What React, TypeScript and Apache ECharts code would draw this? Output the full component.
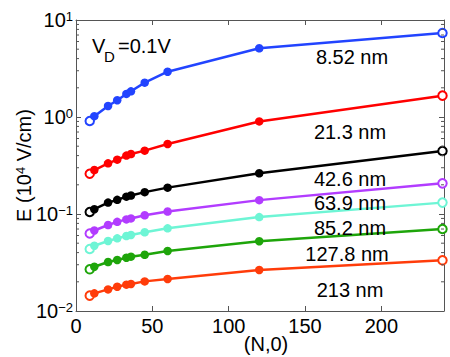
import React, { useEffect, useRef } from 'react';
import * as echarts from 'echarts';

// (N,0) chirality index
const nValues = [9, 12, 21, 27, 33, 36, 45, 60, 120, 240];

// E (10^4 V/cm) for each channel length
const e852nm = [0.91, 1.02, 1.3, 1.49, 1.73, 1.84, 2.26, 2.93, 5.11, 7.34];
const e213nmA = [0.26, 0.284, 0.333, 0.363, 0.4, 0.415, 0.45, 0.527, 0.9, 1.66];
const e426nm = [0.105, 0.112, 0.131, 0.14, 0.151, 0.155, 0.168, 0.187, 0.263, 0.446];
const e639nm = [0.063, 0.0676, 0.077, 0.083, 0.088, 0.09, 0.097, 0.106, 0.139, 0.207];
const e852nmB = [0.0436, 0.0471, 0.0527, 0.0561, 0.0593, 0.0608, 0.0648, 0.0712, 0.093, 0.131];
const e1278nm = [0.0269, 0.0286, 0.032, 0.0336, 0.0354, 0.0363, 0.038, 0.0416, 0.0524, 0.07];
const e213nm = [0.0144, 0.0152, 0.0167, 0.0178, 0.0187, 0.019, 0.0202, 0.0214, 0.0265, 0.0333];

const seriesNames = ['8.52 nm', '21.3 nm', '42.6 nm', '63.9 nm', '85.2 nm', '127.8 nm', '213 nm'];
const seriesValues = [e852nm, e213nmA, e426nm, e639nm, e852nmB, e1278nm, e213nm];
const seriesColors = ['#2244ff', '#ff0000', '#000000', '#b23cff', '#6ef5d5', '#1ea50a', '#ff3c0a'];

const xTickLabels = [0, 50, 100, 150, 200];
const minorMantissas = [2, 3, 4, 5, 6, 7, 8, 9];
const decades = [0.01, 0.1, 1];

// label placement (layout)
const labelPos = [
  [352, 57],
  [350, 132],
  [350, 179],
  [350, 203],
  [350, 228],
  [347, 254],
  [350, 290],
];

const FONT = '"Liberation Sans", Arial, Helvetica, sans-serif';
const AXIS_COLOR = '#555555';

export default function App() {
  const ref = useRef<HTMLDivElement>(null);

  useEffect(() => {
    document.body.style.margin = '0';
    if (!ref.current) return;
    const chart = echarts.init(ref.current, null, { renderer: 'svg' });

    const xMin = 0;
    const xMax = 241;
    const yMin = 0.01;
    const yMax = 10;

    const minorVals: number[] = [];
    decades.forEach((d) => minorMantissas.forEach((m) => minorVals.push(m * d)));

    const supLabel = (v: number) => {
      const e = Math.round(Math.log10(v));
      return `{b|10}{s|${e < 0 ? '\u2212' + -e : e}}`;
    };

    const axisLabelRich = {
      b: { fontSize: 20, lineHeight: 20, fontFamily: FONT, color: '#000', verticalAlign: 'bottom' },
      s: { fontSize: 13, lineHeight: 13, fontFamily: FONT, color: '#000', verticalAlign: 'top', padding: [0, 0, 9, 0] },
    };

    const lineSeries = seriesValues.map((vals, si) => ({
      type: 'line',
      name: seriesNames[si],
      data: nValues.map((x, i) => {
        const hollow = i === 0 || i === nValues.length - 1;
        return {
          value: [x, vals[i]],
          symbol: hollow ? 'emptyCircle' : 'circle',
          itemStyle: hollow
            ? { color: seriesColors[si], borderColor: seriesColors[si], borderWidth: 2.2 }
            : { color: seriesColors[si], borderWidth: 0 },
        };
      }),
      symbolSize: 8.5,
      lineStyle: { color: seriesColors[si], width: 2.5 },
      itemStyle: { color: seriesColors[si] },
      clip: false,
      z: 3,
      xAxisIndex: 0,
      yAxisIndex: 0,
    }));

    const minorTickSeries = {
      type: 'custom',
      silent: true,
      clip: false,
      z: 5,
      xAxisIndex: 0,
      yAxisIndex: 0,
      data: minorVals.map((v) => [xMin, v]),
      encode: { x: 0, y: 1 },
      renderItem: (params: any, api: any) => {
        const v = api.value(1);
        const l = api.coord([xMin, v]);
        const r = api.coord([xMax, v]);
        const st = { stroke: AXIS_COLOR, lineWidth: 1 };
        return {
          type: 'group',
          children: [
            { type: 'line', shape: { x1: l[0], y1: l[1], x2: l[0] + 3, y2: l[1] }, style: st },
            { type: 'line', shape: { x1: r[0] - 3, y1: r[1], x2: r[0], y2: r[1] }, style: st },
          ],
        };
      },
    };

    const txt = (text: string, x: number, y: number, size: number) => ({
      type: 'text',
      x,
      y,
      z: 10,
      style: { text, fontSize: size, fontFamily: FONT, fill: '#000' },
    });

    const option: any = {
      animation: false,
      backgroundColor: '#ffffff',
      grid: { left: 76, right: 6, top: 20, bottom: 46, containLabel: false, outerBoundsMode: 'none' },
      xAxis: [
        {
          type: 'value',
          min: xMin,
          max: xMax,
          interval: 50,
          position: 'bottom',
          axisLine: { show: true, onZero: false, lineStyle: { color: AXIS_COLOR, width: 1 } },
          axisTick: { show: true, inside: true, length: 5, lineStyle: { color: AXIS_COLOR } },
          splitLine: { show: false },
          axisLabel: {
            color: '#000',
            fontSize: 20,
            fontFamily: FONT,
            margin: 5,
            showMaxLabel: false,
            formatter: (v: number) => (xTickLabels.includes(v) ? String(v) : ''),
          },
          name: '(N,0)',
          nameLocation: 'middle',
          nameGap: 23,
          nameMoveOverlap: false,
          nameTextStyle: { color: '#000', fontSize: 20, fontFamily: FONT, padding: [0, 0, 0, 12] },
        },
        {
          type: 'value',
          min: xMin,
          max: xMax,
          interval: 50,
          position: 'top',
          axisLine: { show: true, onZero: false, lineStyle: { color: AXIS_COLOR, width: 1 } },
          axisTick: { show: true, inside: true, length: 5, lineStyle: { color: AXIS_COLOR } },
          splitLine: { show: false },
          axisLabel: { show: false },
        },
      ],
      yAxis: [
        {
          type: 'log',
          logBase: 10,
          min: yMin,
          max: yMax,
          position: 'left',
          axisLine: { show: true, onZero: false, lineStyle: { color: AXIS_COLOR, width: 1 } },
          axisTick: { show: true, inside: true, length: 5, lineStyle: { color: AXIS_COLOR } },
          splitLine: { show: false },
          minorTick: { show: false },
          axisLabel: {
            margin: 3,
            formatter: supLabel,
            rich: axisLabelRich,
            showMinLabel: true,
            showMaxLabel: true,
          },
          name: '{a|E (10}{s|4}{a| V/cm)}',
          nameLocation: 'middle',
          nameGap: 42,
          nameMoveOverlap: false,
          nameTextStyle: {
            rich: {
              a: { fontSize: 20, lineHeight: 20, fontFamily: FONT, color: '#000', verticalAlign: 'bottom' },
              s: { fontSize: 13, lineHeight: 13, fontFamily: FONT, color: '#000', verticalAlign: 'top', padding: [0, 0, 9, 0] },
            },
          },
        },
        {
          type: 'log',
          logBase: 10,
          min: yMin,
          max: yMax,
          position: 'right',
          axisLine: { show: true, onZero: false, lineStyle: { color: AXIS_COLOR, width: 1 } },
          axisTick: { show: true, inside: true, length: 5, lineStyle: { color: AXIS_COLOR } },
          splitLine: { show: false },
          axisLabel: { show: false },
        },
      ],
      graphic: [
        ...seriesNames.map((name, i) => ({
          type: 'text',
          x: labelPos[i][0],
          y: labelPos[i][1],
          z: 10,
          style: {
            text: name,
            fontSize: 20,
            fontFamily: FONT,
            fill: '#000',
            align: 'center',
            verticalAlign: 'middle',
          },
        })),
        txt('V', 92, 36, 20),
        txt('D', 104, 49, 15),
        txt('=0.1V', 118, 36, 20),
      ],
      series: [...lineSeries, minorTickSeries],
    };

    chart.setOption(option);
    return () => chart.dispose();
  }, []);

  return <div ref={ref} style={{ width: 450, height: 357 }} />;
}
